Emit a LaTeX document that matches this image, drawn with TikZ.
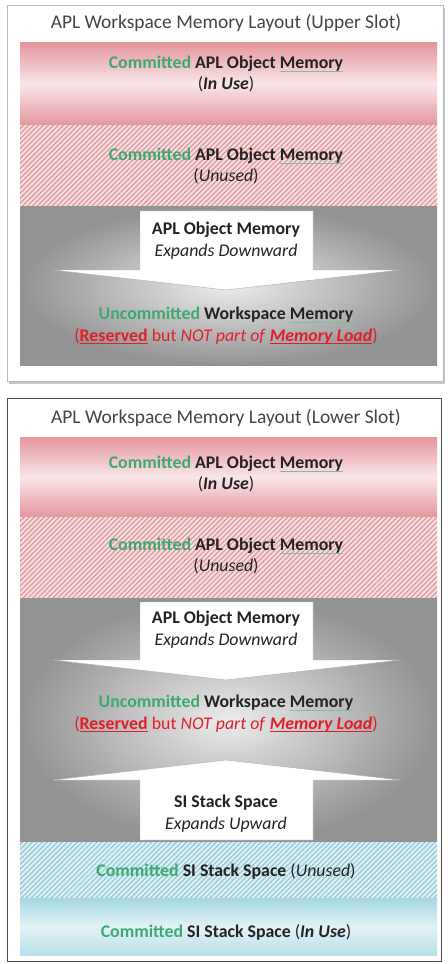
\documentclass[tikz,border=0pt]{standalone}
\usepackage{fontspec}
\setmainfont{Carlito}
\usetikzlibrary{patterns.meta}

\definecolor{aplgreen}{RGB}{60,170,110}
\definecolor{aplred}{RGB}{225,30,40}
\definecolor{apltext}{RGB}{35,35,35}
\definecolor{pinkdark}{RGB}{228,150,158}
\definecolor{pinklight}{RGB}{249,230,232}
\definecolor{pinkhatch}{RGB}{218,145,152}
\definecolor{pinkbg}{RGB}{246,220,222}
\definecolor{cyandark}{RGB}{165,215,228}
\definecolor{cyanlight}{RGB}{226,242,246}
\definecolor{cyanhatch}{RGB}{140,198,212}
\definecolor{cyanbg}{RGB}{220,239,244}

% thin marks under words (green squiggle, red underline)
\newsavebox{\markbox}
\newcommand{\gwave}[1]{\sbox{\markbox}{#1}\rlap{\textcolor{aplgreen!70}{\rule[-2.6pt]{\wd\markbox}{0.6pt}}}\usebox{\markbox}}
\newcommand{\rline}[1]{\sbox{\markbox}{#1}\rlap{\textcolor{aplred}{\rule[-2.2pt]{\wd\markbox}{0.7pt}}}\usebox{\markbox}}
\newcommand{\cmt}{\textcolor{aplgreen}{Committed}}
\newcommand{\ucmt}{\textcolor{aplgreen}{Uncommitted}}

\begin{document}
\begin{tikzpicture}[x=0.03cm, y=-0.03cm,
    slotframe/.style={draw=#1, line width=0.7pt, fill=white},
    inusepink/.style={top color=pinkdark, bottom color=pinkdark, middle color=pinklight},
    inusecyan/.style={top color=cyandark, bottom color=cyandark!80, middle color=cyanlight},
    hatchpink/.style={pattern={Lines[angle=45,distance=3pt,line width=0.9pt]}, pattern color=pinkhatch},
    hatchcyan/.style={pattern={Lines[angle=45,distance=3pt,line width=0.9pt]}, pattern color=cyanhatch},
    grayfree/.style={inner color=gray!15, outer color=gray!85},
    growarrow/.style={fill=white, draw=gray!60, line width=0.4pt},
    bandtext/.style={font=\fontsize{15.2}{18.5}\selectfont, text=apltext, align=center, inner sep=0pt},
    titletext/.style={font=\fontsize{16.6}{19}\selectfont, text=apltext!85}]
    \useasboundingbox (0,0) rectangle (447,964);

    % upper slot
    \fill[gray!45] (9,8) rectangle (445,384);
    \draw[slotframe=gray!55] (7,5) rectangle (443,381);
    \node[titletext] (utitle) at (226,23) {APL Workspace Memory Layout (Upper Slot)};
    \shade[inusepink] (20,43) rectangle (437,125);
    \fill[pinkbg] (20,125) rectangle (437,207);
    \fill[hatchpink] (20,125) rectangle (437,207);
    \shade[grayfree] (20,207) rectangle (437,365);
    \draw[growarrow] (140,211) -- (313,211) -- (313,270) -- (400,270) -- (226,290)
        -- (53,270) -- (140,270) -- cycle;
    \node[bandtext] (uinuse) at (226,74) {\textbf{\cmt{} APL Object \gwave{Memory}}\\(\textbf{\textit{In Use}})};
    \node[bandtext] (uunused) at (226,166) {\textbf{\cmt{} APL Object \gwave{Memory}}\\(\textit{Unused})};
    \node[bandtext] (udown) at (226,241) {\textbf{APL Object Memory}\\\textit{Expands Downward}};
    \node[bandtext] (ufree) at (226,326) {\textbf{\ucmt{} Workspace \gwave{Memory}}\\
        \textcolor{aplred}{(\textbf{\rline{Reserved}} but \textit{NOT part of} \textbf{\textit{\rline{Memory Load}}})}};

    % lower slot
    \draw[slotframe=black!70] (7,398) rectangle (441,961);
    \node[titletext] (ltitle) at (226,418) {APL Workspace Memory Layout (Lower Slot)};
    \shade[inusepink] (20,437) rectangle (437,517);
    \fill[pinkbg] (20,517) rectangle (437,598);
    \fill[hatchpink] (20,517) rectangle (437,598);
    \shade[grayfree] (20,598) rectangle (437,842);
    \fill[cyanbg] (20,842) rectangle (437,898);
    \fill[hatchcyan] (20,842) rectangle (437,898);
    \shade[inusecyan] (20,898) rectangle (437,955);
    \draw[growarrow] (140,602) -- (313,602) -- (313,660) -- (400,660) -- (226,680)
        -- (53,660) -- (140,660) -- cycle;
    \draw[growarrow] (140,840) -- (313,840) -- (313,780) -- (400,780) -- (226,760)
        -- (53,780) -- (140,780) -- cycle;
    \node[bandtext] (linuse) at (226,474) {\textbf{\cmt{} APL Object \gwave{Memory}}\\(\textbf{\textit{In Use}})};
    \node[bandtext] (lunused) at (226,556) {\textbf{\cmt{} APL Object \gwave{Memory}}\\(\textit{Unused})};
    \node[bandtext] (ldown) at (226,630) {\textbf{APL Object Memory}\\\textit{Expands Downward}};
    \node[bandtext] (lfree) at (226,714) {\textbf{\ucmt{} Workspace \gwave{Memory}}\\
        \textcolor{aplred}{(\textbf{\rline{Reserved}} but \textit{NOT part of} \textbf{\textit{\rline{Memory Load}}})}};
    \node[bandtext] (lup) at (226,814) {\textbf{SI Stack Space}\\\textit{Expands Upward}};
    \node[bandtext] (lstackfree) at (226,871) {\textbf{\cmt{} SI Stack Space} (\textit{Unused})};
    \node[bandtext] (lstackuse) at (226,932) {\textbf{\cmt{} SI Stack Space} (\textbf{\textit{In Use}})};
\end{tikzpicture}
\end{document}
